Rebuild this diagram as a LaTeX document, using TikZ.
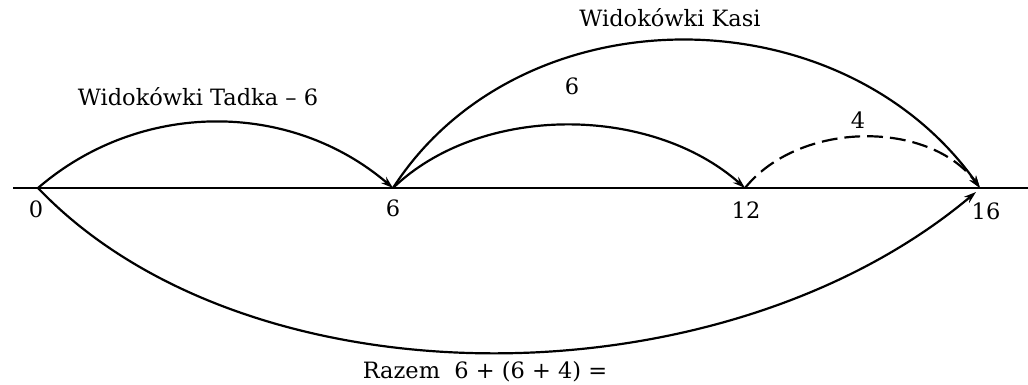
\documentclass[tikz,border=0pt]{standalone}
\usepackage{fontspec}
\setmainfont{DejaVu Serif}
\usetikzlibrary{arrows.meta}
\begin{document}
\begin{tikzpicture}[x=0.02cm,y=-0.02cm,
  arc/.style={line width=1.25pt,-{Stealth[length=7pt,width=4.5pt]}},
  lbl/.style={font=\fontsize{12.8}{15}\selectfont,inner sep=0pt},
  num/.style={font=\fontsize{12.8}{15}\selectfont,inner sep=0pt}]
\useasboundingbox (0,0) rectangle (1028,385);
% points on the axis
\coordinate (L) at (13,188);
\coordinate (R) at (1028,188);
\coordinate (p0) at (38,188);
\coordinate (p6) at (393,188);
\coordinate (p12) at (745,188);
\coordinate (p16) at (980,188);
\coordinate (p16b) at (976,192);
\draw[line width=1.1pt] (L) -- (R);
% tick labels
\node[num] (n0) at (36,209) {0};
\node[num] (n6) at (393,208) {6};
\node[num] (n12) at (746,210) {12};
\node[num] (n16) at (986,211) {16};
% arcs
\draw[arc] (p0) .. controls (140,100) and (290,100) .. (p6);
\draw[arc] (p6) .. controls (480,104) and (650,104) .. (p12);
\draw[arc] (p6) .. controls (520,-9) and (840,-9) .. (p16);
\draw[arc,dashed,dash pattern=on 9pt off 4pt] (p12) .. controls (800,120) and (930,120) .. (p16);
\draw[arc] (p0) .. controls (247,407) and (720,407) .. (p16b);
% labels
\node[lbl] (tadka) at (198,97) {Widokówki Tadka – 6};
\node[lbl] (kasi) at (670,18) {Widokówki Kasi};
\node[lbl] (six) at (572,86) {6};
\node[lbl] (four) at (858,120) {4};
\node[lbl] (razem) at (485,372) {Razem\ \ 6 + (6 + 4) =};
\end{tikzpicture}
\end{document}
